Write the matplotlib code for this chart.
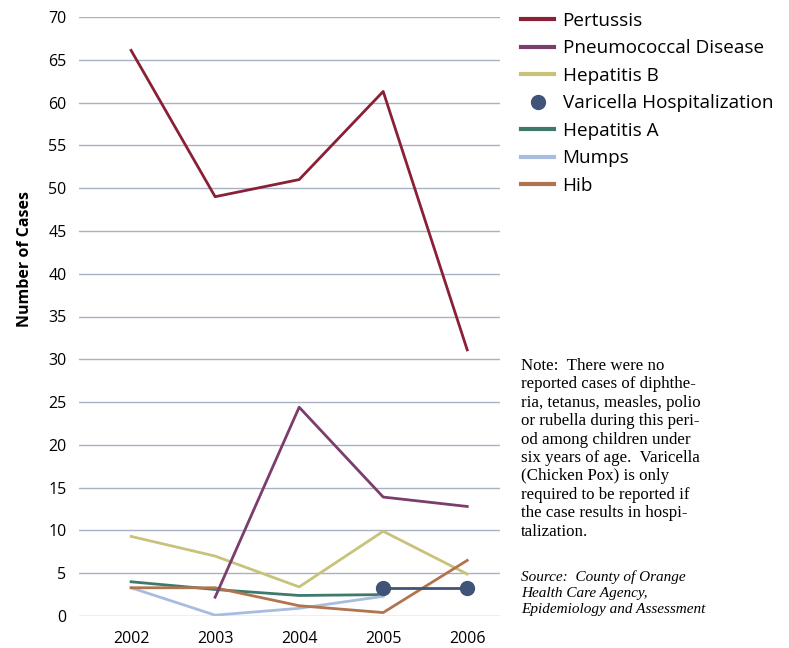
import matplotlib
matplotlib.use("Agg")
import matplotlib.pyplot as plt
from matplotlib.lines import Line2D

years = [2002, 2003, 2004, 2005, 2006]

pertussis = [66.1, 49.0, 51.0, 61.3, 31.1]
pneumococcal = [None, 2.2, 24.4, 13.9, 12.8]
hepatitis_b = [9.3, 7.0, 3.4, 9.9, 4.9]
varicella = [None, None, None, 3.3, 3.3]
hepatitis_a = [4.0, 3.1, 2.4, 2.5, None]
mumps = [3.3, 0.1, 0.9, 2.3, None]
hib = [3.3, 3.3, 1.2, 0.4, 6.5]

names = ["Pertussis", "Pneumococcal Disease", "Hepatitis B",
         "Varicella Hospitalization", "Hepatitis A", "Mumps", "Hib"]
colors = ["#8a2035", "#7a3d6c", "#c9c27a", "#3f5478",
          "#3e7a6c", "#a8bce0", "#b0744f"]

note = ("Note:  There were no\n"
        "reported cases of diphthe-\n"
        "ria, tetanus, measles, polio\n"
        "or rubella during this peri-\n"
        "od among children under\n"
        "six years of age.  Varicella\n"
        "(Chicken Pox) is only\n"
        "required to be reported if\n"
        "the case results in hospi-\n"
        "talization.")
source = ("Source:  County of Orange\n"
          "Health Care Agency,\n"
          "Epidemiology and Assessment")

plt.rcParams['font.family'] = ['Open Sans', 'DejaVu Sans']

fig = plt.figure(figsize=(7.89, 6.48), dpi=100)
ax = fig.add_axes([79 / 789, 1 - 616 / 648, 421 / 789, 599 / 648])


def pts(vals):
    xs = [y for y, v in zip(years, vals) if v is not None]
    ys = [v for v in vals if v is not None]
    return xs, ys


series = [pertussis, pneumococcal, hepatitis_b, varicella, hepatitis_a, mumps, hib]
order = [2, 4, 5, 6, 3, 1, 0]
for i in order:
    xs, ys = pts(series[i])
    if names[i].startswith("Varicella"):
        ax.plot(xs, ys, color=colors[i], lw=2, marker="o", ms=10, zorder=5)
    else:
        ax.plot(xs, ys, color=colors[i], lw=2, zorder=3)

ax.set_xlim(2001.38, 2006.39)
ax.set_ylim(0, 70)
ax.set_yticks(range(0, 71, 5))
ax.set_xticks(years)
ax.grid(axis="y", color="#a9b1c6", lw=1)
ax.set_axisbelow(True)
for s in ax.spines.values():
    s.set_visible(False)
ax.tick_params(axis="y", length=0, pad=9, labelsize=11.5)
ax.tick_params(axis="x", length=0, pad=11, labelsize=11.5)

fig.text(25 / 789, 1 - 259 / 648, "Number of Cases", rotation=90,
         ha="center", va="center", fontsize=11.5, fontweight="bold")

handles = []
for n, c in zip(names, colors):
    if n.startswith("Varicella"):
        handles.append(Line2D([], [], color=c, marker="o", ms=10, lw=0))
    else:
        handles.append(Line2D([], [], color=c, lw=3))
fig.legend(handles, names, loc="upper left",
           bbox_to_anchor=(521 / 789, 1 - 12 / 648), frameon=False,
           fontsize=13.6, handlelength=1.75, handletextpad=0.45,
           labelspacing=0.5, borderpad=0, borderaxespad=0)

fig.text(521 / 789, 1 - 358 / 648, note, ha="left", va="top",
         family="Liberation Serif", fontsize=12.2, linespacing=1.2)
fig.text(521 / 789, 1 - 570 / 648, source, ha="left", va="top",
         family="Liberation Serif", style="italic", fontsize=11,
         linespacing=1.3)

fig.savefig("out.png", dpi=100)
